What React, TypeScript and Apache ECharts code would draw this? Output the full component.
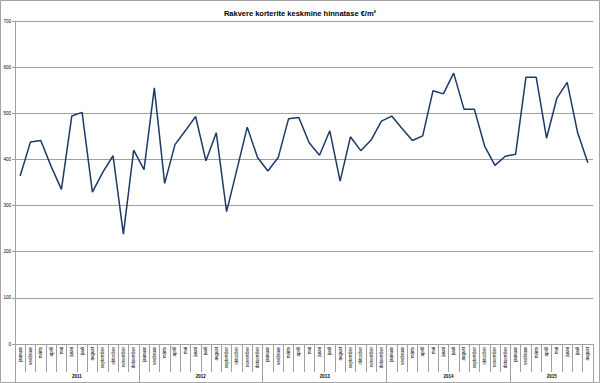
import React, { useEffect, useRef } from "react";
import * as echarts from "echarts";

const title = "Rakvere korterite keskmine hinnatase €/m²";
const monthNames = ["jaanuar", "veebruar", "märts", "aprill", "mai", "juuni", "juuli", "august", "september", "oktoober", "november", "detsember"];
const years = ["2011", "2012", "2013", "2014", "2015"];
const monthsPerYear = [12, 12, 12, 12, 8];
const prices = [
  364, 438, 441, 385, 335, 494, 502, 329, 372, 408, 238, 420,
  378, 555, 348, 432, 462, 493, 397, 458, 287, 378, 470, 404,
  375, 404, 488, 491, 436, 409, 462, 353, 449, 419, 442, 483,
  494, 467, 441, 451, 549, 542, 587, 509, 509, 429, 387, 407,
  411, 578, 578, 446, 533, 567, 459, 393,
];
const yTicks = [0, 100, 200, 300, 400, 500, 600, 700];

export default function App() {
  const ref = useRef<HTMLDivElement>(null);
  useEffect(() => {
    document.body.style.margin = "0";
    const chart = echarts.init(ref.current!, null, { renderer: "svg" });
    const categories: string[] = [];
    const yearStarts: number[] = [0];
    const yearCenters: number[] = [];
    let acc = 0;
    monthsPerYear.forEach((n) => {
      for (let i = 0; i < n; i++) categories.push(monthNames[i]);
      yearCenters.push(acc + n / 2);
      acc += n;
      yearStarts.push(acc);
    });
    const grey = "#a0a0a0";
    chart.setOption({
      animation: false,
      title: {
        text: title,
        left: "center",
        top: 4,
        textStyle: { fontSize: 7.5, fontWeight: "bold", fontFamily: "Liberation Sans Narrow, Liberation Sans, sans-serif", color: "#000" },
      },
      graphic: [
        { type: "rect", shape: { x: 0.5, y: 0.5, width: 599, height: 382 }, style: { fill: "none", stroke: "#a6a6a6", lineWidth: 1 }, silent: true },
      ],
      grid: { left: 15, right: 7, top: 21, bottom: 39 },
      xAxis: [
        {
          type: "category",
          data: categories,
          boundaryGap: true,
          axisLine: { show: true, lineStyle: { color: grey, width: 1 } },
          axisTick: { show: true, interval: 0, length: 28, lineStyle: { color: grey } },
          axisLabel: { interval: 0, rotate: 90, fontSize: 4.5, margin: 3, color: "#000", fontFamily: "Liberation Sans Narrow, Liberation Sans, sans-serif" },
          splitLine: { show: false },
        },
        {
          type: "value",
          position: "bottom",
          min: 0,
          max: categories.length,
          axisLine: { show: false },
          axisTick: { show: true, customValues: yearStarts, length: 38, lineStyle: { color: grey } },
          axisLabel: {
            customValues: yearCenters,
            margin: 30,
            fontSize: 4.5,
            fontWeight: "bold",
            color: "#000",
            fontFamily: "Liberation Sans, sans-serif",
            formatter: (v: number) => years[yearCenters.indexOf(v)] ?? "",
          },
          splitLine: { show: false },
        },
      ],
      yAxis: {
        type: "value",
        min: yTicks[0],
        max: yTicks[yTicks.length - 1],
        interval: 100,
        axisLine: { show: true, lineStyle: { color: grey } },
        axisTick: { show: true, length: 3, lineStyle: { color: grey } },
        axisLabel: { fontSize: 4.5, margin: 4, color: "#000", fontFamily: "Liberation Sans, sans-serif" },
        splitLine: { show: true, lineStyle: { color: grey, width: 1 } },
      },
      series: [
        {
          type: "line",
          xAxisIndex: 0,
          data: prices,
          symbol: "none",
          lineStyle: { color: "#1c3a66", width: 1.5 },
        },
      ],
    });
    return () => chart.dispose();
  }, []);
  return <div ref={ref} style={{ width: 600, height: 383 }} />;
}
